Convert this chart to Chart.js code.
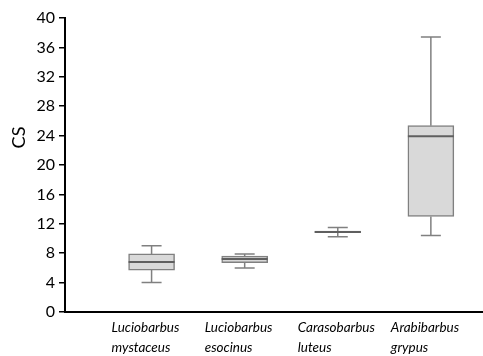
<!DOCTYPE html>
<html>
<head>
<meta charset="utf-8">
<script src="https://cdn.jsdelivr.net/npm/chart.js@4/dist/chart.umd.min.js"></script>
<style>
  html, body { margin: 0; padding: 0; background: #fff; }
  #wrap { width: 483px; height: 356px; }
</style>
</head>
<body>
<div id="wrap"><canvas id="chart"></canvas></div>
<script>
// species, one box per species
const species = [
  ['Luciobarbus', 'mystaceus'],
  ['Luciobarbus', 'esocinus'],
  ['Carasobarbus', 'luteus'],
  ['Arabibarbus', 'grypus']
];
const positions = [1, 2, 3, 4];
const mins    = [4.0, 6.0, 10.25, 10.4];
const q1s     = [5.7, 6.7, 10.8, 13.0];
const medians = [6.8, 7.2, 10.9, 23.9];
const q3s     = [7.9, 7.6, 11.0, 25.35];
const maxs    = [9.0, 7.9, 11.5, 37.4];
const yTicks  = [0, 4, 8, 12, 16, 20, 24, 28, 32, 36, 40];

const boxData = positions.map((p, i) => ({ x: p, y: [q1s[i], q3s[i]] }));

// whiskers, caps and median lines drawn on the chart's scales
const boxPlotLines = {
  id: 'boxPlotLines',
  afterDatasetsDraw(chart) {
    const ctx = chart.ctx;
    const xs = chart.scales.x;
    const ys = chart.scales.y;
    ctx.save();
    positions.forEach((p, i) => {
      const x = xs.getPixelForValue(p);
      const cap = 10, half = 23;
      ctx.strokeStyle = '#808080';
      ctx.lineWidth = 1.5;
      ctx.beginPath();
      ctx.moveTo(x, ys.getPixelForValue(q3s[i]));
      ctx.lineTo(x, ys.getPixelForValue(maxs[i]));
      ctx.moveTo(x, ys.getPixelForValue(q1s[i]));
      ctx.lineTo(x, ys.getPixelForValue(mins[i]));
      ctx.moveTo(x - cap, ys.getPixelForValue(maxs[i]));
      ctx.lineTo(x + cap, ys.getPixelForValue(maxs[i]));
      ctx.moveTo(x - cap, ys.getPixelForValue(mins[i]));
      ctx.lineTo(x + cap, ys.getPixelForValue(mins[i]));
      ctx.stroke();
      ctx.strokeStyle = '#5f5f5f';
      ctx.lineWidth = 2;
      ctx.beginPath();
      ctx.moveTo(x - half, ys.getPixelForValue(medians[i]));
      ctx.lineTo(x + half, ys.getPixelForValue(medians[i]));
      ctx.stroke();
    });
    ctx.restore();
  }
};

// y axis title sits above the axis middle in the original
const yTitle = {
  id: 'yTitle',
  afterDraw(chart) {
    const ctx = chart.ctx;
    ctx.save();
    ctx.translate(19, 137.5);
    ctx.rotate(-Math.PI / 2);
    ctx.font = '18px Lato';
    ctx.fillStyle = '#000';
    ctx.textAlign = 'center';
    ctx.textBaseline = 'middle';
    ctx.fillText('CS', 0, 0);
    ctx.restore();
  }
};

new Chart(document.getElementById('chart'), {
  type: 'bar',
  data: {
    datasets: [{
      data: boxData,
      backgroundColor: '#d9d9d9',
      borderColor: '#808080',
      borderWidth: 1.5,
      borderSkipped: false,
      barThickness: 46
    }]
  },
  plugins: [boxPlotLines, yTitle],
  options: {
    responsive: true,
    maintainAspectRatio: false,
    animation: false,
    layout: { padding: { top: 18, right: 0, left: 0, bottom: 0 } },
    plugins: { legend: { display: false }, tooltip: { enabled: false } },
    scales: {
      x: {
        type: 'linear',
        offset: false,
        min: 0.07,
        max: 4.56,
        afterBuildTicks(scale) {
          scale.ticks = positions.map(v => ({ value: v }));
        },
        afterFit(scale) {
          scale.height = 44;
          scale.paddingLeft = 0;
          scale.paddingRight = 0;
        },
        grid: { display: false, drawTicks: false, offset: false },
        border: { display: true, color: '#000', width: 2 },
        ticks: {
          align: 'start',
          labelOffset: -40,
          padding: 6,
          color: '#000',
          font: { family: 'Lato', style: 'italic', size: 13.5, lineHeight: 1.45 },
          callback: v => species[v - 1]
        }
      },
      y: {
        min: 0,
        max: 40,
        afterBuildTicks(scale) {
          scale.ticks = yTicks.map(v => ({ value: v }));
        },
        afterFit(scale) { scale.width = 65; },
        grid: { drawOnChartArea: false, color: '#000', lineWidth: 1.5, tickLength: 6 },
        border: { color: '#000', width: 2 },
        ticks: {
          padding: 4,
          color: '#000',
          font: { family: 'Lato', size: 16 }
        }
      }
    }
  }
});
</script>
</body>
</html>
